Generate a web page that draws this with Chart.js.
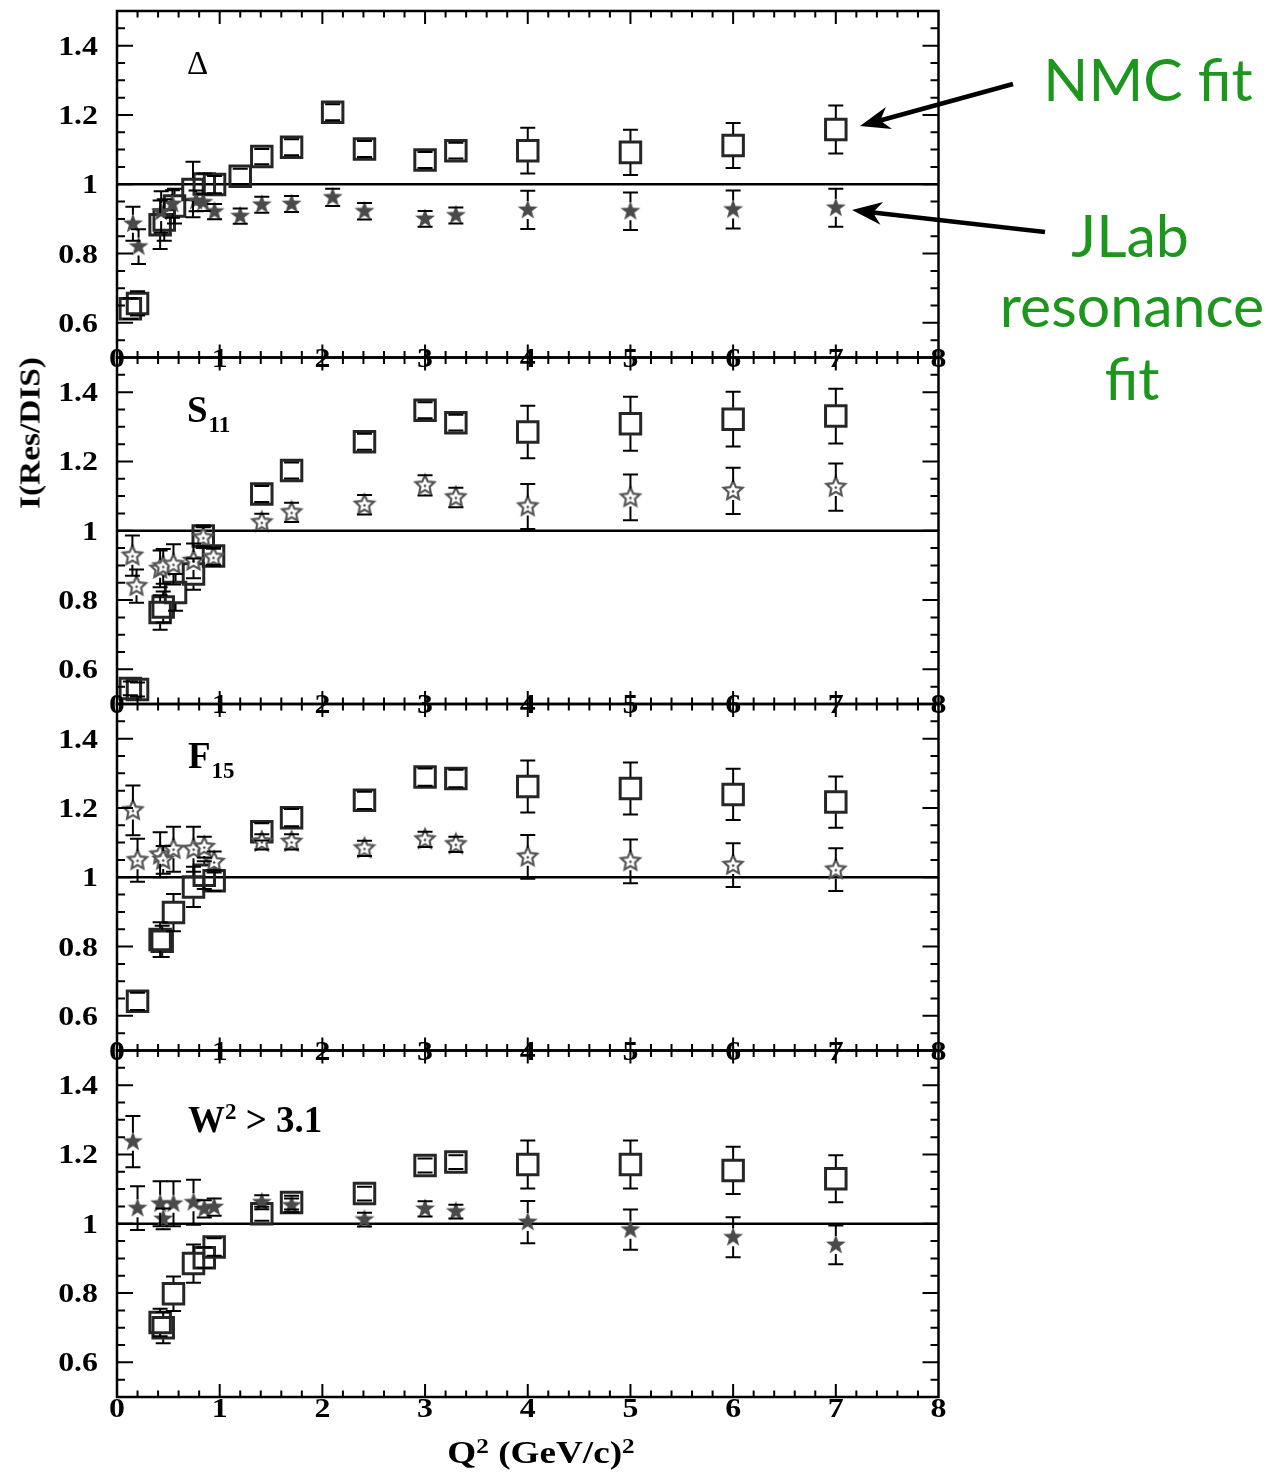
<!DOCTYPE html>
<html>
<head>
<meta charset="utf-8">
<script src="https://cdn.jsdelivr.net/npm/chart.js@4.4.1/dist/chart.umd.min.js"></script>
<style>
  html, body { margin:0; padding:0; background:#fff; }
  #wrap { position:relative; width:1283px; height:1477px; overflow:hidden; background:#fff; }
  canvas.panel { position:absolute; left:0; top:0; }
  .t { position:absolute; line-height:1; white-space:nowrap; color:#000; font-family:"Liberation Serif","Times New Roman",serif; }
  .g { position:absolute; line-height:1; white-space:nowrap; color:#1c961c; font-family:"Lato","Open Sans",sans-serif; font-size:59px; transform:translateX(-50%); }
  svg#arrows { position:absolute; left:0; top:0; }
</style>
</head>
<body>
<div id="wrap">
  <canvas id="c0" class="panel" width="1283" height="1477"></canvas>
  <canvas id="c1" class="panel" width="1283" height="1477"></canvas>
  <canvas id="c2" class="panel" width="1283" height="1477"></canvas>
  <canvas id="c3" class="panel" width="1283" height="1477"></canvas>

  <div class="t" style="left:187px; top:47px; font-size:33px;">&Delta;</div>
  <div class="t" style="left:187px; top:391px; font-size:37px; font-weight:bold;">S<span style="font-size:23px; position:relative; top:10px; margin-left:1px;">11</span></div>
  <div class="t" style="left:188px; top:737px; font-size:37px; font-weight:bold;">F<span style="font-size:23px; position:relative; top:10px; margin-left:1px;">15</span></div>
  <div class="t" style="left:188px; top:1101px; font-size:37px; font-weight:bold;">W<span style="font-size:23px; position:relative; top:-13px;">2</span> &gt; 3.1</div>

  <div class="t" style="left:30px; top:433px; font-size:29px; font-weight:bold; transform:translate(-50%,-50%) rotate(-90deg) scaleX(1.15);">I(Res/DIS)</div>
  <div class="t" style="left:541px; top:1437px; font-size:31px; font-weight:bold; transform:translateX(-50%) scaleX(1.2);">Q<span style="font-size:21px; position:relative; top:-10px;">2</span> (GeV/c)<span style="font-size:21px; position:relative; top:-10px;">2</span></div>

  <div class="g" style="left:1148px; top:49px;">NMC fit</div>
  <div class="g" style="left:1130px; top:205px;">JLab</div>
  <div class="g" style="left:1132px; top:275px;">resonance</div>
  <div class="g" style="left:1132px; top:348px;">fit</div>

  <svg id="arrows" width="1283" height="1477"></svg>
</div>

<script>
// ---------------- DATA ----------------
const panelNames = ["Δ", "S11", "F15", "W2 > 3.1"];
const xTickLabels = ["0","1","2","3","4","5","6","7","8"];
const yTickValues = [0.6, 0.8, 1.0, 1.2, 1.4];
const yTickLabels = ["0.6","0.8","1","1.2","1.4"];

// Panel 1: Delta
const deltaNmcQ2  = [0.13, 0.20, 0.42, 0.46, 0.56, 0.74, 0.85, 0.95, 1.20, 1.41, 1.70, 2.10, 2.41, 3.00, 3.30, 4, 5, 6, 7];
const deltaNmcVal = [0.641, 0.656, 0.883, 0.897, 0.937, 0.985, 1.001, 0.999, 1.023, 1.080, 1.107, 1.208, 1.102, 1.070, 1.097, 1.097, 1.092, 1.112, 1.158];
const deltaNmcErr = [0.03, 0.035, 0.07, 0.06, 0.05, 0.08, 0.03, 0.025, 0.022, 0.022, 0.023, 0.023, 0.023, 0.023, 0.023, 0.066, 0.065, 0.065, 0.069];
const deltaJlabQ2  = [0.155, 0.21, 0.43, 0.54, 0.77, 0.84, 0.95, 1.20, 1.41, 1.70, 2.10, 2.41, 3.00, 3.30, 4, 5, 6, 7];
const deltaJlabVal = [0.886, 0.820, 0.920, 0.943, 0.952, 0.948, 0.921, 0.908, 0.941, 0.943, 0.962, 0.922, 0.900, 0.910, 0.926, 0.922, 0.927, 0.932];
const deltaJlabErr = [0.049, 0.050, 0.060, 0.040, 0.030, 0.025, 0.022, 0.022, 0.023, 0.023, 0.025, 0.024, 0.023, 0.023, 0.055, 0.054, 0.055, 0.055];

// Panel 2: S11
const s11NmcQ2  = [0.13, 0.20, 0.42, 0.45, 0.57, 0.745, 0.84, 0.94, 1.41, 1.70, 2.41, 3.00, 3.30, 4, 5, 6, 7];
const s11NmcVal = [0.545, 0.542, 0.764, 0.780, 0.822, 0.875, 0.985, 0.927, 1.106, 1.174, 1.257, 1.348, 1.312, 1.285, 1.309, 1.322, 1.331];
const s11NmcErr = [0.02, 0.02, 0.05, 0.045, 0.053, 0.045, 0.03, 0.025, 0.023, 0.023, 0.023, 0.023, 0.023, 0.076, 0.078, 0.079, 0.079];
const s11JlabQ2  = [0.15, 0.19, 0.42, 0.45, 0.55, 0.745, 0.84, 0.94, 1.41, 1.70, 2.41, 3.00, 3.30, 4, 5, 6, 7];
const s11JlabVal = [0.928, 0.840, 0.890, 0.897, 0.903, 0.913, 0.980, 0.923, 1.024, 1.053, 1.075, 1.131, 1.096, 1.070, 1.096, 1.115, 1.126];
const s11JlabErr = [0.058, 0.048, 0.053, 0.050, 0.058, 0.050, 0.030, 0.025, 0.025, 0.028, 0.028, 0.029, 0.028, 0.065, 0.066, 0.067, 0.068];

// Panel 3: F15
const f15NmcQ2  = [0.20, 0.42, 0.44, 0.55, 0.745, 0.85, 0.946, 1.41, 1.70, 2.41, 3.00, 3.30, 4, 5, 6, 7];
const f15NmcVal = [0.642, 0.820, 0.815, 0.898, 0.972, 1.006, 0.990, 1.131, 1.172, 1.222, 1.289, 1.285, 1.262, 1.256, 1.239, 1.217];
const f15NmcErr = [0.025, 0.05, 0.045, 0.054, 0.058, 0.04, 0.03, 0.025, 0.025, 0.025, 0.025, 0.025, 0.075, 0.075, 0.074, 0.074];
const f15JlabQ2  = [0.155, 0.20, 0.42, 0.45, 0.55, 0.745, 0.85, 0.946, 1.41, 1.70, 2.41, 3.00, 3.30, 4, 5, 6, 7];
const f15JlabVal = [1.193, 1.049, 1.065, 1.050, 1.081, 1.081, 1.087, 1.044, 1.102, 1.102, 1.083, 1.109, 1.095, 1.059, 1.046, 1.035, 1.022];
const f15JlabErr = [0.072, 0.062, 0.065, 0.040, 0.065, 0.065, 0.030, 0.030, 0.022, 0.022, 0.022, 0.022, 0.022, 0.063, 0.063, 0.063, 0.062];

// Panel 4: W2 > 3.1
const wNmcQ2  = [0.42, 0.45, 0.55, 0.745, 0.85, 0.946, 1.41, 1.70, 2.41, 3.00, 3.30, 4, 5, 6, 7];
const wNmcVal = [0.715, 0.700, 0.798, 0.885, 0.902, 0.933, 1.029, 1.061, 1.087, 1.168, 1.178, 1.171, 1.171, 1.154, 1.130];
const wNmcErr = [0.040, 0.045, 0.050, 0.055, 0.030, 0.025, 0.020, 0.020, 0.020, 0.020, 0.020, 0.069, 0.069, 0.068, 0.068];
const wJlabQ2  = [0.155, 0.20, 0.42, 0.45, 0.55, 0.745, 0.85, 0.946, 1.41, 1.70, 2.41, 3.00, 3.30, 4, 5, 6, 7];
const wJlabVal = [1.237, 1.045, 1.058, 1.014, 1.058, 1.062, 1.043, 1.048, 1.062, 1.053, 1.012, 1.043, 1.035, 1.005, 0.983, 0.961, 0.939];
const wJlabErr = [0.074, 0.063, 0.065, 0.030, 0.065, 0.065, 0.025, 0.025, 0.020, 0.020, 0.020, 0.022, 0.020, 0.061, 0.058, 0.058, 0.056];

// ---------------- LAYOUT ----------------
const W = 1283, H = 1477;
const PLOT_LEFT = 117, PLOT_RIGHT = 938.5;
const PANEL_TOP = [11, 357.5, 704, 1050.5];
const PANEL_BOT = [357.5, 704, 1050.5, 1397];
const TICK_FONT = 'bold 27px "Liberation Serif", "Times New Roman", serif';
const TICK_STRETCH = 1.18;

function pts(xs, ys) { return xs.map((x, i) => ({ x: x, y: ys[i] })); }

function makeStar(R, r, fill, stroke, lw, dot) {
  const s = Math.ceil(2 * R + lw + 3);
  const c = document.createElement('canvas');
  c.width = s; c.height = s;
  const g = c.getContext('2d');
  const cx = s / 2, cy = s / 2;
  g.beginPath();
  for (let i = 0; i < 10; i++) {
    const a = -Math.PI / 2 + i * Math.PI / 5;
    const rr = (i % 2) ? r : R;
    g.lineTo(cx + rr * Math.cos(a), cy + rr * Math.sin(a));
  }
  g.closePath();
  g.fillStyle = fill; g.fill();
  if (stroke) { g.strokeStyle = stroke; g.lineWidth = lw; g.lineJoin = 'miter'; g.stroke(); }
  if (dot) { g.beginPath(); g.arc(cx, cy + 0.5, 1.3, 0, 2 * Math.PI); g.fillStyle = dot; g.fill(); }
  return c;
}
const filledStar = makeStar(10.5, 4.3, '#4a4a4a', null, 0, null);
const openStar = makeStar(10, 4.8, '#ffffff', '#555555', 2.2, '#444444');

function stretchedText(ctx, text, x, y, align) {
  ctx.save();
  ctx.translate(x, y);
  ctx.scale(TICK_STRETCH, 1);
  ctx.textAlign = align;
  ctx.textBaseline = 'alphabetic';
  ctx.fillText(text, 0, 0);
  ctx.restore();
}

const errorBarPlugin = {
  id: 'errorBars',
  afterDatasetsDraw(chart) {
    const ctx = chart.ctx, xs = chart.scales.x, ys = chart.scales.y;
    ctx.save();
    ctx.strokeStyle = '#000';
    ctx.lineWidth = 2;
    chart.data.datasets.forEach(ds => {
      if (!ds.errors) return;
      const gap = ds.errGap, cap = 7.5;
      ds.data.forEach((p, i) => {
        const e = ds.errors[i];
        const px = xs.getPixelForValue(p.x), py = ys.getPixelForValue(p.y);
        const top = ys.getPixelForValue(p.y + e), bot = ys.getPixelForValue(p.y - e);
        ctx.beginPath();
        if (py - top > gap) {
          ctx.moveTo(px, top); ctx.lineTo(px, py - gap);
          ctx.moveTo(px, py + gap); ctx.lineTo(px, bot);
        }
        ctx.moveTo(px - cap, top); ctx.lineTo(px + cap, top);
        ctx.moveTo(px - cap, bot); ctx.lineTo(px + cap, bot);
        ctx.stroke();
      });
    });
    ctx.restore();
  }
};

const framePlugin = {
  id: 'frame',
  afterDraw(chart, args, opts) {
    const ctx = chart.ctx, xs = chart.scales.x, ys = chart.scales.y, a = chart.chartArea;
    ctx.save();
    ctx.strokeStyle = '#000';
    ctx.lineWidth = 2;
    ctx.beginPath();
    for (let k = 1; k < 40; k++) {
      const v = k / 5;
      const len = (k % 5 === 0) ? 13 : 6.5;
      const px = xs.getPixelForValue(v);
      ctx.moveTo(px, a.bottom); ctx.lineTo(px, a.bottom - len);
      ctx.moveTo(px, a.top); ctx.lineTo(px, a.top + len);
    }
    for (let k = 11; k < 30; k++) {
      const v = k * 0.05;
      const len = (k % 4 === 0) ? 16 : 8;
      const py = ys.getPixelForValue(v);
      ctx.moveTo(a.left, py); ctx.lineTo(a.left + len, py);
      ctx.moveTo(a.right, py); ctx.lineTo(a.right - len, py);
    }
    ctx.stroke();
    ctx.lineWidth = 2.5;
    ctx.strokeRect(a.left, a.top, a.right - a.left, a.bottom - a.top);
    ctx.fillStyle = '#000';
    ctx.font = TICK_FONT;
    yTickValues.forEach((v, i) => {
      stretchedText(ctx, yTickLabels[i], 98, ys.getPixelForValue(v) + 9, 'right');
    });
    const baseY = opts.last ? a.bottom + 20 : a.bottom + 9;
    xTickLabels.forEach((lab, i) => {
      stretchedText(ctx, lab, xs.getPixelForValue(Number(lab)), baseY, 'center');
    });
    ctx.restore();
  }
};

const panels = [
  { nmc: pts(deltaNmcQ2, deltaNmcVal), nmcErr: deltaNmcErr, jlab: pts(deltaJlabQ2, deltaJlabVal), jlabErr: deltaJlabErr, star: filledStar },
  { nmc: pts(s11NmcQ2, s11NmcVal), nmcErr: s11NmcErr, jlab: pts(s11JlabQ2, s11JlabVal), jlabErr: s11JlabErr, star: openStar },
  { nmc: pts(f15NmcQ2, f15NmcVal), nmcErr: f15NmcErr, jlab: pts(f15JlabQ2, f15JlabVal), jlabErr: f15JlabErr, star: openStar },
  { nmc: pts(wNmcQ2, wNmcVal), nmcErr: wNmcErr, jlab: pts(wJlabQ2, wJlabVal), jlabErr: wJlabErr, star: filledStar }
];

panels.forEach((p, idx) => {
  new Chart(document.getElementById('c' + idx), {
    type: 'scatter',
    data: {
      datasets: [
        { label: 'unity', type: 'line', data: [{ x: 0, y: 1 }, { x: 8, y: 1 }], borderColor: '#000', borderWidth: 2.5, pointRadius: 0, order: 3 },
        { label: 'NMC fit (' + panelNames[idx] + ')', data: p.nmc, errors: p.nmcErr, errGap: 11.5,
          pointStyle: 'rect', pointRadius: 14.5, pointBorderWidth: 3, pointBorderColor: '#262626',
          pointBackgroundColor: 'rgba(0,0,0,0)', showLine: false, order: 2 },
        { label: 'JLab resonance fit (' + panelNames[idx] + ')', data: p.jlab, errors: p.jlabErr, errGap: 9,
          pointStyle: p.star, pointRadius: 10, pointBorderWidth: 0, showLine: false, order: 1 }
      ]
    },
    options: {
      responsive: false,
      animation: false,
      events: [],
      layout: { autoPadding: false, padding: { left: PLOT_LEFT, right: W - PLOT_RIGHT, top: PANEL_TOP[idx], bottom: H - PANEL_BOT[idx] } },
      scales: {
        x: { type: 'linear', min: 0, max: 8, display: false },
        y: { type: 'linear', min: 0.5, max: 1.5, display: false }
      },
      plugins: { legend: { display: false }, tooltip: { enabled: false }, frame: { last: idx === 3 } }
    },
    plugins: [errorBarPlugin, framePlugin]
  });
});

(function () {
  const svg = document.getElementById('arrows');
  const NS = 'http://www.w3.org/2000/svg';
  function arrow(x1, y1, x2, y2) {
    const dx = x2 - x1, dy = y2 - y1, L = Math.hypot(dx, dy);
    const ux = dx / L, uy = dy / L, nx = -uy, ny = ux;
    const hl = 30, hw = 11.5, notch = 21;
    const line = document.createElementNS(NS, 'line');
    line.setAttribute('x1', x1); line.setAttribute('y1', y1);
    line.setAttribute('x2', x2 - ux * (notch - 2)); line.setAttribute('y2', y2 - uy * (notch - 2));
    line.setAttribute('stroke', '#000'); line.setAttribute('stroke-width', '4.5');
    svg.appendChild(line);
    const bx = x2 - ux * hl, by = y2 - uy * hl;
    const poly = document.createElementNS(NS, 'polygon');
    poly.setAttribute('points', [
      [x2, y2], [bx + nx * hw, by + ny * hw], [x2 - ux * notch, y2 - uy * notch], [bx - nx * hw, by - ny * hw]
    ].map(q => q[0].toFixed(1) + ',' + q[1].toFixed(1)).join(' '));
    poly.setAttribute('fill', '#000');
    svg.appendChild(poly);
  }
  arrow(1013, 84, 860, 126);
  arrow(1045, 232, 852, 210);
})();
</script>
</body>
</html>
